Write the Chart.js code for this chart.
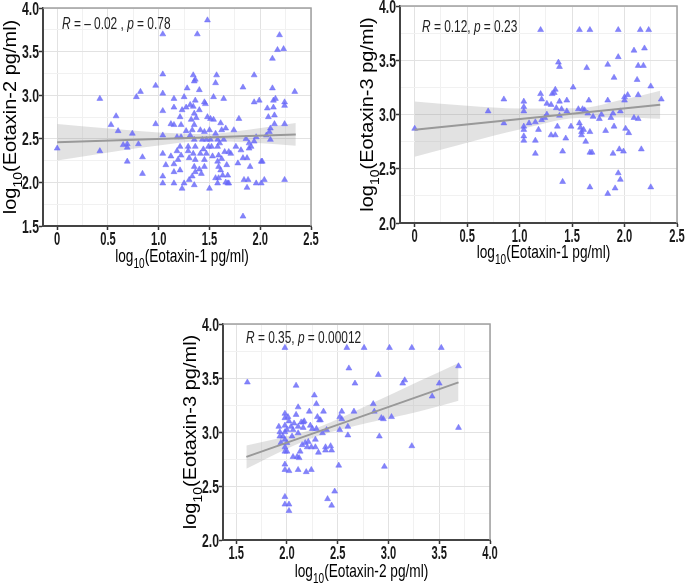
<!DOCTYPE html>
<html>
<head>
<meta charset="utf-8">
<script src="https://cdn.jsdelivr.net/npm/chart.js@4.4.1/dist/chart.umd.min.js"></script>
<style>
html,body{margin:0;padding:0;background:#fff;width:685px;height:586px;overflow:hidden;position:relative}
canvas{position:absolute;display:block}
</style>
</head>
<body>
<canvas id="c1"></canvas>
<canvas id="c2"></canvas>
<canvas id="c3"></canvas>
<script>
// ---------------- DATA ----------------
// Panel 1: log10(Eotaxin-1) vs log10(Eotaxin-2)
const p1X = [0,0.42,0.42,0.53,0.58,0.60,0.65,0.69,0.69,0.69,0.74,0.78,0.80,0.82,0.84,0.84,0.97,0.97,1.04,1.04,1.04,1.04,1.04,1.04,1.04,1.04,1.07,1.12,1.15,1.15,1.15,1.15,1.15,1.15,1.18,1.21,
 1.23,1.25,1.22,1.22,1.21,1.22,1.19,1.21,1.23,1.25,1.27,1.28,1.29,1.30,1.30,1.31,1.31,1.32,
 1.34,1.35,1.36,1.36,1.34,1.35,1.37,1.35,1.33,1.35,1.36,1.34,1.36,1.35,1.36,1.33,1.35,1.38,1.40,1.40,1.41,1.41,1.43,1.42,
 1.45,1.46,1.48,1.48,1.45,1.47,1.49,1.47,1.45,1.45,1.50,1.51,1.50,1.51,1.52,1.54,1.56,
 1.57,1.56,1.54,1.58,1.58,1.59,1.58,1.59,1.58,1.59,1.61,1.62,1.61,1.63,1.64,1.64,1.65,1.66,1.67,1.68,1.69,1.69,1.71,1.68,
 1.74,1.76,1.78,1.79,1.81,1.83,1.83,1.83,1.84,1.87,1.86,1.88,1.89,1.87,1.89,1.90,1.91,1.94,1.96,1.94,1.94,
 1.96,1.99,2.01,2.01,2.02,2.04,2.06,2.07,2.08,2.09,2.10,2.10,2.12,2.12,2.13,2.13,2.14,2.14,2.15,2.17,2.19,2.23,2.24,2.24,2.24,2.24,2.34,
 1.27,1.29,1.40,1.44,1.53,1.56,1.60,1.62,1.66,1.18,1.12];
const p1Y = [2.39,2.96,2.36,2.66,2.76,2.59,2.43,2.44,2.40,2.24,2.56,2.98,2.44,3.04,2.29,2.10,3.11,2.67,3.70,3.24,3.02,2.82,2.54,2.33,2.07,1.99,2.20,2.67,2.96,2.86,2.66,2.21,2.12,1.99,2.52,2.75,
 2.83,2.98,2.66,2.52,2.41,2.31,2.26,2.14,1.93,1.99,2.59,3.08,2.41,2.28,2.03,2.89,2.54,2.72,
 3.23,3.16,3.18,2.94,2.87,2.79,2.74,2.66,2.60,2.49,2.41,2.33,2.26,2.18,2.12,2.07,1.97,3.70,3.06,2.83,2.60,2.33,2.49,2.10,
 2.92,2.90,3.86,2.75,2.58,2.49,2.41,2.33,2.26,2.18,1.93,2.73,2.60,2.49,2.41,2.72,2.56,
 3.23,3.14,2.98,2.49,2.41,2.31,2.24,2.18,1.99,2.05,2.68,2.60,2.14,2.08,2.96,2.49,2.35,2.62,2.20,1.99,1.99,2.35,2.33,2.08,
 2.60,2.41,2.22,2.73,2.37,2.28,3.09,1.61,2.03,1.94,2.50,2.03,2.39,2.28,2.45,2.18,2.41,2.47,2.52,3.23,2.92,
 1.99,2.94,1.99,2.24,2.24,2.03,2.54,2.85,2.75,2.58,2.62,2.49,3.42,3.08,2.94,2.86,2.77,2.67,2.96,3.52,3.69,3.53,2.92,2.88,2.67,2.03,3.04,
 2.86,2.36,2.15,2.38,2.30,2.05,2.45,2.27,2.00,2.36,2.30];
const p1FitX = [0, 2.35];
const p1FitY = [2.46, 2.55];
const p1BandX = [0, 0.6, 1.0, 1.45, 1.9, 2.35];
const p1BandUp = [2.67, 2.61, 2.573, 2.555, 2.608, 2.68];
const p1BandLo = [2.25, 2.36, 2.423, 2.475, 2.458, 2.42];

// Panel 2: log10(Eotaxin-1) vs log10(Eotaxin-3)
const p2X = [0,0.70,0.85,0.85,1.04,1.04,1.04,1.04,1.04,1.04,1.04,1.09,1.15,1.15,1.15,1.18,1.20,1.20,1.21,1.21,1.24,1.26,1.26,1.30,1.30,1.31,1.33,1.34,1.34,1.35,1.36,1.37,1.38,1.38,1.38,1.40,1.41,1.41,1.44,1.45,1.45,1.49,1.51,
 1.56,1.57,1.57,1.58,1.59,1.59,1.60,1.61,1.62,1.63,1.64,1.65,1.66,1.67,1.67,1.67,1.67,1.69,1.70,1.76,1.78,1.82,1.84,1.84,1.84,1.87,1.89,1.89,1.90,1.90,1.91,
 1.94,1.94,1.94,1.95,1.96,1.96,1.99,2.00,2.00,2.01,2.03,2.04,2.09,2.09,2.12,2.13,2.13,2.13,2.15,2.16,2.18,2.19,2.23,2.25,2.25,2.35];
const p2Y = [2.87,3.03,3.14,2.92,3.12,3.07,3.03,2.89,2.86,2.80,2.76,2.92,2.76,2.64,2.93,2.86,3.78,3.19,3.14,2.95,2.97,3.00,3.10,3.09,2.81,3.19,3.20,3.23,2.81,3.06,2.89,3.48,3.44,3.12,2.99,3.05,2.66,2.38,2.78,3.03,3.13,2.89,3.25,
 3.05,3.78,2.92,2.88,2.84,2.81,3.05,2.86,3.04,2.75,3.43,3.01,3.13,3.78,2.84,2.65,2.33,2.65,2.98,2.96,3.00,2.85,3.46,3.13,2.27,2.97,3.01,2.64,2.89,3.34,2.32,
 3.53,3.78,2.46,2.68,2.40,3.03,2.66,3.13,3.16,2.87,3.18,2.83,3.59,2.97,3.32,3.45,3.18,2.96,3.78,2.68,3.45,3.61,3.78,3.26,2.33,3.14];
const p2FitX = [0, 2.34];
const p2FitY = [2.86, 3.09];
const p2BandX = [0, 0.5, 1.0, 1.55, 2.0, 2.34];
const p2BandUp = [3.12, 3.08, 3.055, 3.057, 3.14, 3.22];
const p2BandLo = [2.61, 2.74, 2.861, 2.967, 2.972, 2.96];

// Panel 3: log10(Eotaxin-2) vs log10(Eotaxin-3)
const p3X = [1.61,1.92,1.93,1.93,1.94,1.96,1.98,1.98,1.98,1.98,1.98,1.98,1.98,1.98,1.98,1.98,1.98,1.98,2.00,2.00,2.00,2.01,2.02,2.02,2.02,2.02,2.04,2.05,2.06,2.06,2.07,2.09,2.09,2.10,2.11,2.11,2.11,2.11,2.12,2.13,2.14,2.15,2.16,2.16,2.17,2.18,2.19,2.20,2.21,2.22,2.23,2.24,2.24,2.25,2.27,2.28,2.28,2.29,2.29,2.30,2.31,2.32,2.33,2.35,2.36,2.38,2.38,2.39,2.40,2.43,2.44,2.44,2.47,
 2.51,2.52,2.52,2.54,2.54,2.59,2.60,2.60,2.61,2.67,2.66,2.76,2.85,2.86,2.90,2.91,2.93,2.95,2.96,3.01,3.03,3.14,3.16,3.23,3.23,3.43,3.50,3.52,3.69,3.69];
const p3Y = [3.46,3.05,2.96,3.00,2.90,2.96,3.78,3.17,3.13,3.06,3.00,2.93,2.86,2.82,2.70,2.65,2.40,2.33,3.02,2.90,2.82,3.14,3.10,2.64,2.33,2.27,3.05,2.96,2.77,3.02,3.08,3.43,3.16,2.77,3.23,3.05,2.99,2.65,2.76,2.82,3.09,2.88,3.09,3.04,3.10,2.90,2.63,2.86,2.91,3.19,3.06,2.86,2.65,3.03,3.34,2.93,2.86,3.26,3.03,3.14,2.81,3.11,3.11,2.99,3.19,2.86,2.83,3.02,2.38,2.87,2.83,2.32,2.45,
 2.69,3.14,3.02,3.19,3.12,3.78,2.97,3.05,3.59,3.45,3.19,3.78,3.26,3.19,3.53,2.96,3.13,3.12,2.68,3.78,3.14,3.45,3.48,2.87,3.78,3.33,3.45,3.78,3.61,3.04];
const p3FitX = [1.6, 3.69];
const p3FitY = [2.77, 3.46];
const p3BandX = [1.6, 2.0, 2.3, 2.8, 3.3, 3.69];
const p3BandUp = [2.875, 2.96, 3.04, 3.25, 3.47, 3.64];
const p3BandLo = [2.66, 2.845, 2.96, 3.085, 3.19, 3.29];

// Axis ticks (major, labelled) and minor grid positions
const p1XTicks = [0, 0.5, 1.0, 1.5, 2.0, 2.5];
const p1XLabels = ['0', '0.5', '1.0', '1.5', '2.0', '2.5'];
const p1XMinor = [0.25, 0.75, 1.25, 1.75, 2.25];
const p1YTicks = [1.5, 2.0, 2.5, 3.0, 3.5, 4.0];
const p1YLabels = ['1.5', '2.0', '2.5', '3.0', '3.5', '4.0'];
const p1YMinor = [1.75, 2.25, 2.75, 3.25, 3.75];

const p2XTicks = [0, 0.5, 1.0, 1.5, 2.0, 2.5];
const p2XLabels = ['0', '0.5', '1.0', '1.5', '2.0', '2.5'];
const p2XMinor = [0.25, 0.75, 1.25, 1.75, 2.25];
const p2YTicks = [2.0, 2.5, 3.0, 3.5, 4.0];
const p2YLabels = ['2.0', '2.5', '3.0', '3.5', '4.0'];
const p2YMinor = [2.25, 2.75, 3.25, 3.75];

const p3XTicks = [1.5, 2.0, 2.5, 3.0, 3.5, 4.0];
const p3XLabels = ['1.5', '2.0', '2.5', '3.0', '3.5', '4.0'];
const p3XMinor = [1.75, 2.25, 2.75, 3.25, 3.75];
const p3YTicks = [2.0, 2.5, 3.0, 3.5, 4.0];
const p3YLabels = ['2.0', '2.5', '3.0', '3.5', '4.0'];
const p3YMinor = [2.25, 2.75, 3.25, 3.75];

// Axis titles: [prefix, subscript, rest]
const p1XTitle = ['log', '10', '(Eotaxin-1 pg/ml)'];
const p1YTitle = ['log', '10', '(Eotaxin-2 pg/ml)'];
const p2XTitle = ['log', '10', '(Eotaxin-1 pg/ml)'];
const p2YTitle = ['log', '10', '(Eotaxin-3 pg/ml)'];
const p3XTitle = ['log', '10', '(Eotaxin-2 pg/ml)'];
const p3YTitle = ['log', '10', '(Eotaxin-3 pg/ml)'];

// Correlation annotations
const statR = ['\u2013 0.02 ', '0.12', '0.35'];
const statP = ['0.78', '0.23', '0.00012'];

// ---------------- DRAWING ----------------
const FAM = '"Liberation Sans", Arial, Helvetica, sans-serif';

function runsWidth(ctx, runs) {
  let w = 0;
  for (const r of runs) { ctx.font = r.f; w += ctx.measureText(r.t).width; }
  return w;
}
function drawRuns(ctx, runs, x, y, sx, align, color) {
  ctx.save();
  const w = runsWidth(ctx, runs) * sx;
  const x0 = align === 'center' ? x - w / 2 : (align === 'right' ? x - w : x);
  ctx.translate(x0, y);
  ctx.scale(sx, 1);
  ctx.fillStyle = color;
  ctx.textAlign = 'left';
  ctx.textBaseline = 'alphabetic';
  let cx = 0;
  for (const r of runs) {
    ctx.font = r.f;
    ctx.fillText(r.t, cx, r.dy || 0);
    cx += ctx.measureText(r.t).width;
  }
  ctx.restore();
}
function titleRuns(parts, size) {
  return [
    {t: parts[0], f: size + 'px ' + FAM},
    {t: parts[1], f: Math.round(size * 0.72) + 'px ' + FAM, dy: size * 0.32},
    {t: parts[2], f: size + 'px ' + FAM}
  ];
}

function makePanel(cfg) {
  const cv = document.getElementById(cfg.id);
  cv.width = cfg.W; cv.height = cfg.H;
  cv.style.left = cfg.L + 'px'; cv.style.top = cfg.T + 'px';
  cv.style.width = cfg.W + 'px'; cv.style.height = cfg.H + 'px';
  const A = cfg.area;
  const isMajor = (list, v) => list.some(t => Math.abs(t - v) < 1e-9);

  function axis(min, max, major, minor, isX) {
    return {
      type: 'linear', min: min, max: max,
      afterBuildTicks: sc => { sc.ticks = major.concat(minor).sort((a, b) => a - b).map(v => ({value: v})); },
      afterFit: sc => { if (isX) sc.height = cfg.H - A.b; else sc.width = A.l; },
      ticks: {display: false},
      grid: {
        color: c => (c.tick && isMajor(major, c.tick.value)) ? '#e2e2e2' : '#f1f1f1',
        lineWidth: 1,
        drawTicks: true, tickLength: 4, tickWidth: 1.5,
        tickColor: c => (c.tick && isMajor(major, c.tick.value)) ? '#333333' : 'rgba(0,0,0,0)'
      },
      border: {display: true, color: '#444444', width: 2},
      title: {display: false}
    };
  }

  const pts = cfg.x.map((v, i) => ({x: v, y: cfg.y[i]}));
  const up = cfg.bandX.map((v, i) => ({x: v, y: cfg.bandUp[i]}));
  const lo = cfg.bandX.map((v, i) => ({x: v, y: cfg.bandLo[i]}));
  const fit = cfg.fitX.map((v, i) => ({x: v, y: cfg.fitY[i]}));

  const decor = {
    id: 'decor',
    afterDraw(chart) {
      const ctx = chart.ctx, ca = chart.chartArea;
      const xs = chart.scales.x, ys = chart.scales.y;
      ctx.save();
      ctx.strokeStyle = '#a0a0a0'; ctx.lineWidth = 1.5;
      ctx.beginPath();
      ctx.moveTo(ca.left, ca.top); ctx.lineTo(ca.right, ca.top); ctx.lineTo(ca.right, ca.bottom);
      ctx.stroke();
      ctx.restore();
      const tf = 'bold 18px ' + FAM;
      cfg.xTicks.forEach((v, i) => {
        drawRuns(ctx, [{t: cfg.xLabels[i], f: tf}], xs.getPixelForValue(v), ca.bottom + 19, 0.62, 'center', '#1a1a1a');
      });
      cfg.yTicks.forEach((v, i) => {
        drawRuns(ctx, [{t: cfg.yLabels[i], f: tf}], ca.left - 4, ys.getPixelForValue(v) + 6.5, 0.68, 'right', '#1a1a1a');
      });
      drawRuns(ctx, titleRuns(cfg.xTitle, 19), (ca.left + ca.right) / 2 + 5, ca.bottom + cfg.xTitleDy, 0.72, 'center', '#000');
      ctx.save();
      ctx.translate(ca.left - 27, (ca.top + ca.bottom) / 2);
      ctx.rotate(-Math.PI / 2);
      ctx.scale(1, 0.9);
      drawRuns(ctx, titleRuns(cfg.yTitle, 20), 0, 0, 1, 'center', '#000');
      ctx.restore();
      const sf = '17px ' + FAM, si = 'italic 17px ' + FAM;
      drawRuns(ctx, [
        {t: 'R', f: si}, {t: ' = ' + cfg.r + ', ', f: sf}, {t: 'p', f: si}, {t: ' = ' + cfg.p, f: sf}
      ], ca.left + cfg.statDx, ca.top + cfg.statDy, 0.7, 'left', '#222');
    }
  };

  new Chart(cv, {
    type: 'scatter',
    data: {
      datasets: [
        {type: 'line', data: up, borderWidth: 0, pointRadius: 0, fill: '+1', backgroundColor: 'rgba(150,150,150,0.28)', tension: 0.4, cubicInterpolationMode: 'monotone', order: 5},
        {type: 'line', data: lo, borderWidth: 0, pointRadius: 0, fill: false, tension: 0.4, cubicInterpolationMode: 'monotone', order: 4},
        {type: 'scatter', data: pts, pointStyle: 'triangle', pointRadius: 3.4, borderWidth: 0.6,
         backgroundColor: 'rgba(105,105,248,0.82)', borderColor: 'rgba(105,105,248,0.82)', order: 2},
        {type: 'line', data: fit, borderColor: '#999999', borderWidth: 2, pointRadius: 0, fill: false, order: 1}
      ]
    },
    options: {
      responsive: false, animation: false, events: [],
      layout: {padding: {left: 0, top: A.t, right: cfg.W - A.r, bottom: 0}},
      plugins: {legend: {display: false}, tooltip: {enabled: false}},
      scales: {
        x: axis(cfg.xMin, cfg.xMax, cfg.xTicks, cfg.xMinor, true),
        y: axis(cfg.yMin, cfg.yMax, cfg.yTicks, cfg.yMinor, false)
      }
    },
    plugins: [decor]
  });
}

makePanel({id: 'c1', L: 0, T: 0, W: 340, H: 280, area: {l: 43, r: 311, t: 8, b: 226},
  x: p1X, y: p1Y, fitX: p1FitX, fitY: p1FitY, bandX: p1BandX, bandUp: p1BandUp, bandLo: p1BandLo,
  xMin: -0.14, xMax: 2.5, yMin: 1.5, yMax: 4.0,
  xTicks: p1XTicks, xLabels: p1XLabels, xMinor: p1XMinor, yTicks: p1YTicks, yLabels: p1YLabels, yMinor: p1YMinor,
  xTitle: p1XTitle, yTitle: p1YTitle, xTitleDy: 36, r: statR[0], p: statP[0], statDx: 19, statDy: 21});

makePanel({id: 'c2', L: 340, T: 0, W: 345, H: 280, area: {l: 60, r: 337, t: 6, b: 223},
  x: p2X, y: p2Y, fitX: p2FitX, fitY: p2FitY, bandX: p2BandX, bandUp: p2BandUp, bandLo: p2BandLo,
  xMin: -0.14, xMax: 2.5, yMin: 2.0, yMax: 4.0,
  xTicks: p2XTicks, xLabels: p2XLabels, xMinor: p2XMinor, yTicks: p2YTicks, yLabels: p2YLabels, yMinor: p2YMinor,
  xTitle: p2XTitle, yTitle: p2YTitle, xTitleDy: 35, r: statR[1], p: statP[1], statDx: 22, statDy: 26});

makePanel({id: 'c3', L: 160, T: 300, W: 360, H: 286, area: {l: 63, r: 330, t: 24, b: 240},
  x: p3X, y: p3Y, fitX: p3FitX, fitY: p3FitY, bandX: p3BandX, bandUp: p3BandUp, bandLo: p3BandLo,
  xMin: 1.37, xMax: 4.0, yMin: 2.0, yMax: 4.0,
  xTicks: p3XTicks, xLabels: p3XLabels, xMinor: p3XMinor, yTicks: p3YTicks, yLabels: p3YLabels, yMinor: p3YMinor,
  xTitle: p3XTitle, yTitle: p3YTitle, xTitleDy: 37, r: statR[2], p: statP[2], statDx: 23, statDy: 19});
</script>
</body>
</html>
